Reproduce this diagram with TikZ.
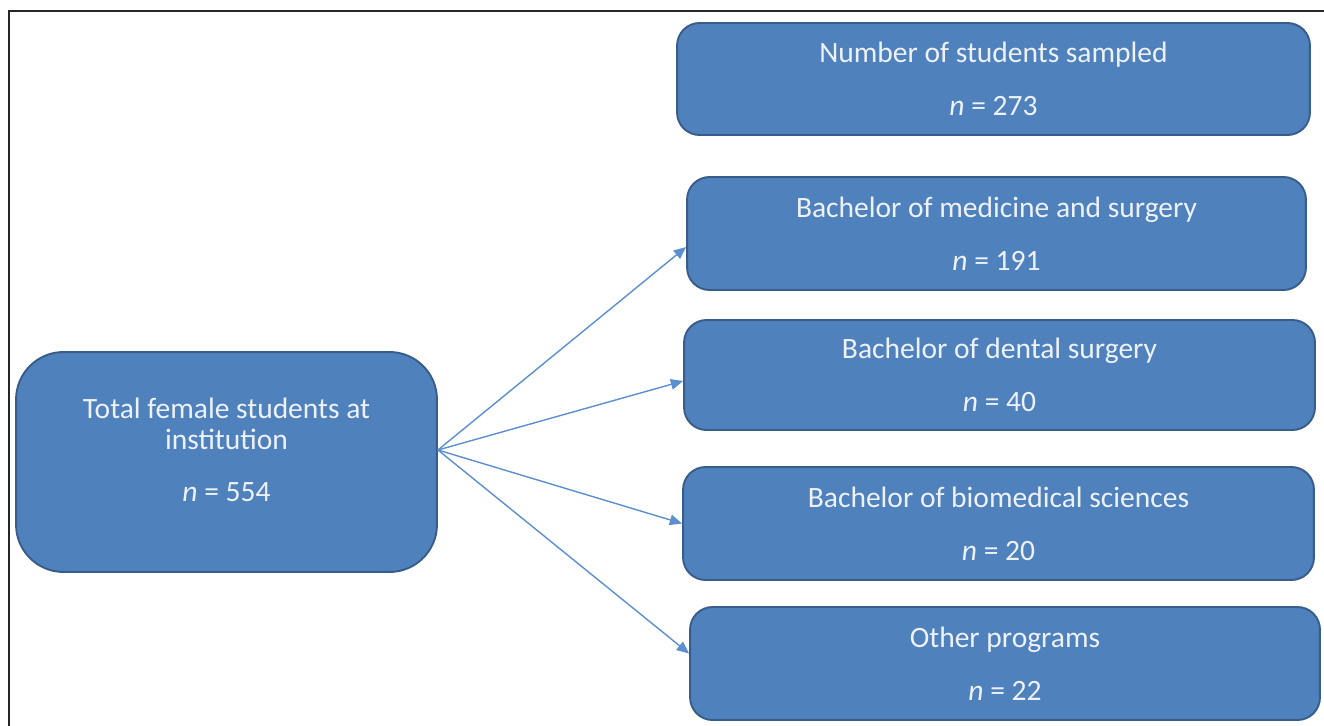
\documentclass[tikz,border=0pt]{standalone}
\usepackage{fontspec}
\setmainfont{Carlito}
\usepackage{xcolor}
\usepackage{tikz}
\usetikzlibrary{calc,arrows.meta}
\definecolor{boxfill}{HTML}{4F81BD}
\definecolor{boxline}{HTML}{385D8A}
\definecolor{arrowblue}{HTML}{5B8FD0}
\definecolor{boxtext}{HTML}{EEF2F8}

\begin{document}
\begin{tikzpicture}[x=0.02cm, y=-0.02cm,
  progbox/.style={draw=boxline, fill=boxfill, line width=1.1pt, rounded corners=0.45cm,
    text=boxtext, align=center, font=\fontsize{16.8}{20}\selectfont, inner sep=0pt},
  flow/.style={draw=arrowblue, line width=0.8pt, -{Triangle[length=7pt,width=6pt]}}]
\useasboundingbox (0,0) rectangle (1324,726);
\draw [line width=1.6pt, black!85!white] (9,726) -- (9,11) -- (1324,11);

\node [progbox, minimum width=12.66cm, minimum height=2.24cm] (sampled) at (993.5,79)
	{Number of students sampled\\[10pt]\textit{n} = 273};
\node [progbox, minimum width=12.38cm, minimum height=2.26cm] (medicine) at (996.5,233.5)
	{Bachelor of medicine and surgery\\[10pt]\textit{n} = 191};
\node [progbox, minimum width=12.62cm, minimum height=2.2cm] (dental) at (999.5,375)
	{Bachelor of dental surgery\\[10pt]\textit{n} = 40};
\node [progbox, minimum width=12.62cm, minimum height=2.26cm] (biomed) at (998.5,523.5)
	{Bachelor of biomedical sciences\\[10pt]\textit{n} = 20};
\node [progbox, minimum width=12.6cm, minimum height=2.26cm] (other) at (1005,663.5)
	{Other programs\\[10pt]\textit{n} = 22};
\node [progbox, font=\fontsize{16.8}{18}\selectfont, rounded corners=0.95cm,
	minimum width=8.42cm, minimum height=4.4cm] (total) at (226.5,462)
	{Total female students at\\institution\\[11.5pt]\textit{n} = 554\\[-4pt]};

\coordinate (fork) at ($(total.east)+(0,-12)$);
\draw [flow] (fork) -- ([yshift=-0.27cm]medicine.west);
\draw [flow] (fork) -- ([yshift=-0.12cm]dental.west);
\draw [flow] (fork) -- (biomed.west);
\draw [flow] (fork) -- ([yshift=0.2cm]other.west);
\end{tikzpicture}
\end{document}
